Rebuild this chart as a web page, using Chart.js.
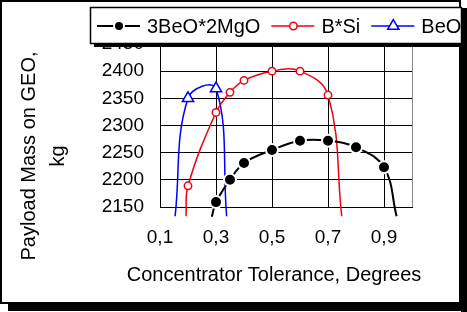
<!DOCTYPE html>
<html>
<head>
<meta charset="utf-8">
<script src="https://cdn.jsdelivr.net/npm/chart.js@4"></script>
<style>
  html, body { margin: 0; padding: 0; background: #fff; }
  canvas { display: block; }
</style>
</head>
<body>
<canvas id="chart" width="467" height="312"></canvas>
<script>
// values (first and last points are the curve tails below the axis)
const xTicks = [0.1, 0.3, 0.5, 0.7, 0.9];

const mgoX = [0.285, 0.3, 0.35, 0.4, 0.5, 0.6, 0.7, 0.8, 0.9, 0.945];
const mgoY = [2132, 2159, 2200, 2231, 2255, 2272, 2272, 2260, 2223, 2133];

const bsiX = [0.193, 0.2, 0.3, 0.35, 0.4, 0.5, 0.6, 0.7, 0.749];
const bsiY = [2133, 2189, 2324, 2361, 2383, 2400, 2400, 2356, 2133];

const beoX = [0.154, 0.2, 0.3, 0.338];
const beoY = [2133, 2350, 2368, 2133];

const FONT = 'Liberation Sans, Arial, sans-serif';
Chart.defaults.font.family = FONT;
Chart.defaults.color = '#000';

function pts(xs, ys) {
    return xs.map((x, i) => ({ x: x, y: ys[i] }));
}

// no marker on the tails
function markerRadius(r) {
    return c => (c.dataIndex === 0 || c.dataIndex === c.dataset.data.length - 1) ? 0 : r;
}

const frame = {
    id: 'frame',
    beforeDraw(chart) {
        const ctx = chart.ctx;
        ctx.save();
        ctx.fillStyle = '#fff';
        ctx.fillRect(0, 0, chart.width, chart.height);
        ctx.strokeStyle = '#000';
        ctx.lineWidth = 2;
        ctx.strokeRect(1, 1, 459, 302);
        ctx.fillStyle = '#000';
        ctx.fillRect(461, 8, 6, 304);
        ctx.fillRect(8, 304, 459, 7);
        ctx.restore();
    },
    beforeDatasetsDraw(chart) {
        const a = chart.chartArea, ctx = chart.ctx;
        ctx.save();
        ctx.strokeStyle = '#888';
        ctx.lineWidth = 1;
        ctx.beginPath();
        ctx.moveTo(a.right + 0.5, a.top);
        ctx.lineTo(a.right + 0.5, a.bottom);
        ctx.stroke();
        ctx.restore();
    },
    afterDraw(chart) {
        const ctx = chart.ctx;
        ctx.save();
        ctx.fillStyle = '#000';
        ctx.font = '20px ' + FONT;
        ctx.textAlign = 'center';
        ctx.textBaseline = 'middle';
        // axis titles
        ctx.fillText('Concentrator Tolerance, Degrees', 274, 275);
        ctx.save();
        ctx.translate(29, 156);
        ctx.rotate(-Math.PI / 2);
        ctx.fillText('Payload Mass on GEO,', 0, 0);
        ctx.fillText('kg', 0, 29);
        ctx.restore();

        // legend box
        ctx.fillStyle = '#000';
        ctx.fillRect(94, 43, 368, 4);
        ctx.fillStyle = '#fff';
        ctx.fillRect(90, 7, 371, 36);
        ctx.strokeStyle = '#000';
        ctx.lineWidth = 1.5;
        ctx.strokeRect(90.5, 7.5, 371, 36);

        let x = 97;
        const y = 26;
        chart.data.datasets.forEach(ds => {
            ctx.strokeStyle = ds.borderColor;
            ctx.lineWidth = ds.borderWidth;
            ctx.beginPath();
            ctx.moveTo(x, y);
            ctx.lineTo(x + 43, y);
            ctx.stroke();
            ctx.fillStyle = ds.pointBackgroundColor;
            ctx.strokeStyle = ds.pointBorderColor;
            ctx.lineWidth = ds.pointBorderWidth;
            Chart.helpers.drawPoint(ctx, {
                pointStyle: ds.pointStyle,
                radius: ds.legendRadius,
                rotation: 0,
                borderWidth: ds.pointBorderWidth
            }, x + 22, y);
            ctx.fillStyle = '#000';
            ctx.font = '20px ' + FONT;
            ctx.textAlign = 'left';
            ctx.fillText(ds.label, x + 50, y + 1);
            x += 50 + ctx.measureText(ds.label).width + 11;
        });
        ctx.restore();
    }
};

new Chart(document.getElementById('chart'), {
    type: 'line',
    data: {
        datasets: [
            {
                label: '3BeO*2MgO',
                data: pts(mgoX, mgoY),
                borderColor: '#000',
                borderWidth: 2,
                pointStyle: 'circle',
                pointBackgroundColor: '#000',
                pointBorderColor: '#fff',
                pointBorderWidth: 2,
                pointRadius: markerRadius(6),
                legendRadius: 5
            },
            {
                label: 'B*Si',
                data: pts(bsiX, bsiY),
                borderColor: '#f00010',
                borderWidth: 1.5,
                pointStyle: 'circle',
                pointBackgroundColor: '#fff',
                pointBorderColor: '#f00010',
                pointBorderWidth: 1.5,
                pointRadius: markerRadius(3.7),
                legendRadius: 3.7
            },
            {
                label: 'BeO',
                data: pts(beoX, beoY),
                borderColor: '#0000ff',
                borderWidth: 1.5,
                pointStyle: 'triangle',
                pointBackgroundColor: '#fff',
                pointBorderColor: '#0000ff',
                pointBorderWidth: 1.5,
                pointRadius: markerRadius(6.5),
                legendRadius: 6.5
            }
        ]
    },
    options: {
        responsive: false,
        animation: false,
        events: [],
        layout: { padding: { left: 0, top: 44, right: 55, bottom: 0 } },
        elements: {
            line: { tension: 0.4, capBezierPoints: false, fill: false }
        },
        datasets: { line: { clip: false } },
        plugins: {
            legend: { display: false },
            tooltip: { enabled: false }
        },
        scales: {
            x: {
                type: 'linear',
                min: 0.1,
                max: 1.0,
                afterBuildTicks: scale => { scale.ticks = xTicks.map(v => ({ value: v })); },
                afterFit: scale => { scale.height = 105; },
                grid: { color: '#000', lineWidth: 1, drawTicks: false },
                border: { color: '#000', width: 1 },
                ticks: {
                    padding: 19,
                    font: { size: 19 },
                    maxRotation: 0,
                    autoSkip: false,
                    callback: v => v.toFixed(1).replace('.', ',')
                }
            },
            y: {
                min: 2150,
                max: 2450,
                afterFit: scale => { scale.width = 160; },
                grid: { color: '#000', lineWidth: 1, drawTicks: false },
                border: { color: '#000', width: 1 },
                ticks: {
                    stepSize: 50,
                    padding: 16,
                    font: { size: 19 },
                    autoSkip: false,
                    callback: v => String(v)
                }
            }
        }
    },
    plugins: [frame]
});
</script>
</body>
</html>
